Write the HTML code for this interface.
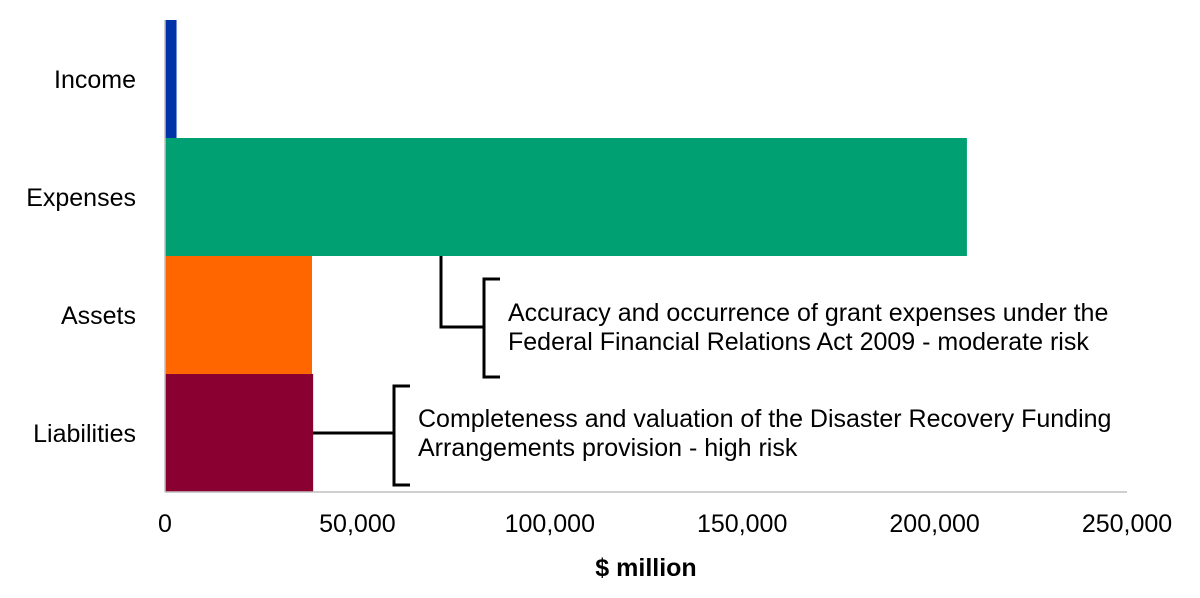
<!DOCTYPE html>
<html><head><meta charset="utf-8"><style>
body{margin:0;background:#fff}
svg text{font-family:"Liberation Sans",Arial,sans-serif;fill:#000}
</style></head><body>
<svg id="c" style="position:absolute;left:0;top:0" width="1200" height="598" xmlns="http://www.w3.org/2000/svg"></svg>
<script>
const categories=["Income","Expenses","Assets","Liabilities"];
const values=[3000,208400,38200,38500];
const colors=["#0033a8","#00a073","#ff6600","#8a0030"];
const ticks=[0,50000,100000,150000,200000,250000];
const tickLabels=["0","50,000","100,000","150,000","200,000","250,000"];
const svg=document.getElementById('c');
const NS="http://www.w3.org/2000/svg";
const x0=165,x1=1127,topY=20,band=118;
const xs=v=>x0+(v/250000)*(x1-x0);
const ys=i=>topY+i*band;
function mk(t,a,txt){const e=document.createElementNS(NS,t);for(const k in a)e.setAttribute(k,a[k]);if(txt!==undefined)e.textContent=txt;svg.appendChild(e);return e;}
categories.forEach((c,i)=>{
 const r=mk('rect',{x:x0,y:ys(i),width:xs(values[i])-x0,height:band,fill:colors[i]});
 
 
 const t=mk('text',{x:136,y:ys(i)+band/2+9,'text-anchor':'end','font-size':25},c);
 
 
});
const ax=mk('line',{x1:x0,y1:492,x2:x1,y2:492,stroke:'#bfbfbf','stroke-width':1.5});


const ay=mk('line',{x1:x0,y1:topY,x2:x0,y2:492,stroke:'#bfbfbf','stroke-width':1.5});


ticks.forEach((v,i)=>{
 const t=mk('text',{x:xs(v),y:532,'text-anchor':'middle','font-size':25},tickLabels[i]);
 
 
});
const xt=mk('text',{x:646,y:576,'text-anchor':'middle','font-size':25,'font-weight':'bold'},'$ million');


</script>
<svg style="position:absolute;left:0;top:0" width="1200" height="598" xmlns="http://www.w3.org/2000/svg">
<g fill="none" stroke="#000" stroke-width="3">
<path d="M441 256 V327 H484"/><path d="M500 279 H484 V377 H500"/>
</g>
<g fill="none" stroke="#000" stroke-width="3">
<path d="M313 433 H394"/><path d="M410 386 H394 V485 H410"/>
</g>
<g font-family="Liberation Sans, Arial, sans-serif" font-size="25" fill="#000">
<text x="508" y="321">Accuracy and occurrence of grant expenses under the</text>
<text x="508" y="350">Federal Financial Relations Act 2009 - moderate risk</text>
<text x="418" y="427">Completeness and valuation of the Disaster Recovery Funding</text>
<text x="418" y="456">Arrangements provision - high risk</text>
</g>
</svg>
</body></html>
